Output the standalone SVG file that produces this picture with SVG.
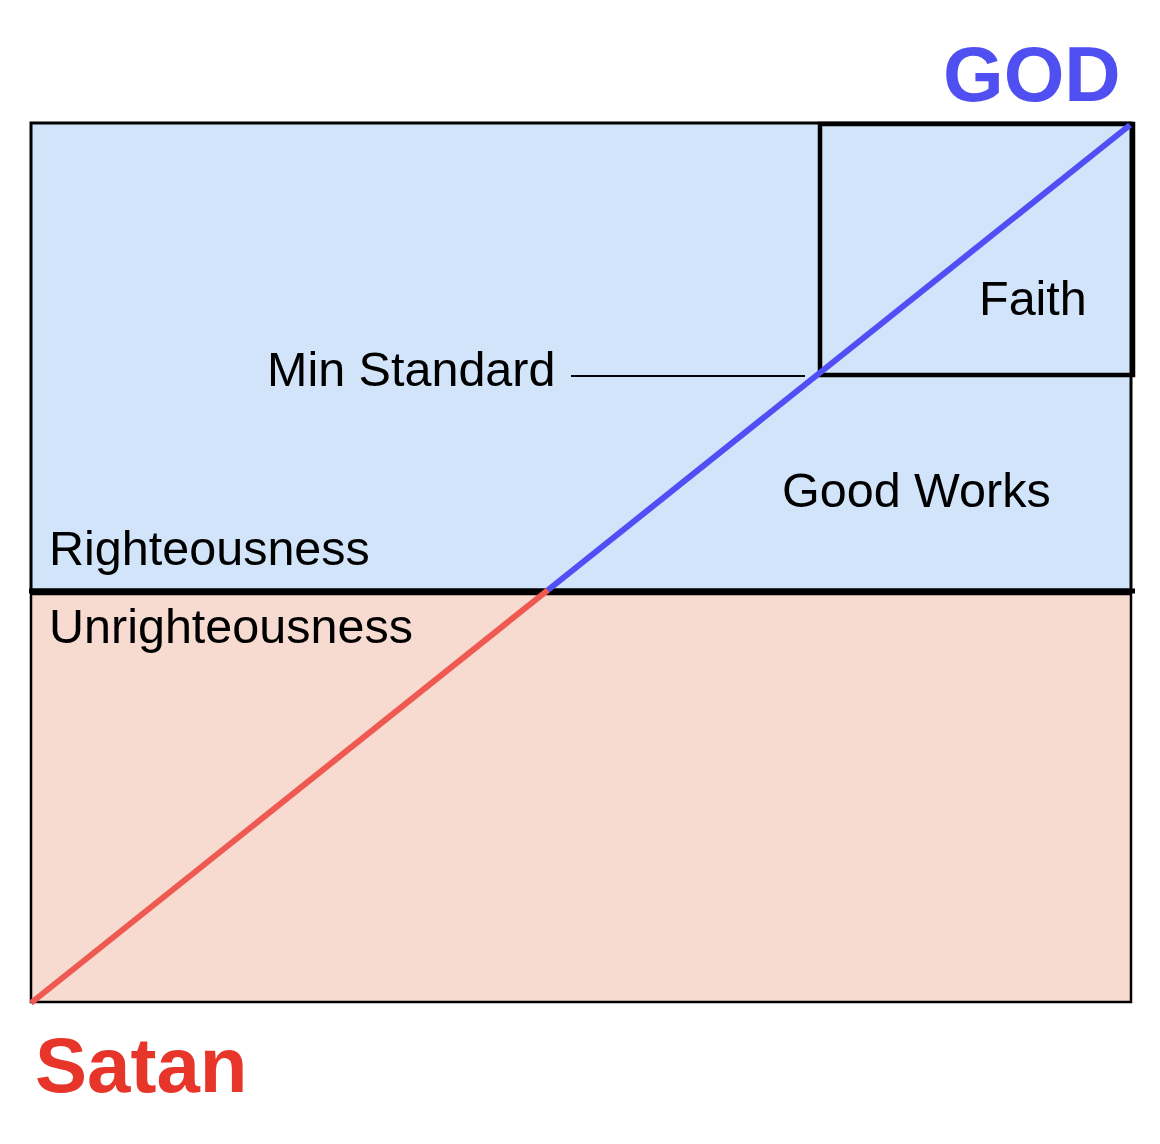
<svg xmlns="http://www.w3.org/2000/svg" width="1160" height="1144" viewBox="0 0 1160 1144">
<style>
text{font-family:"Liberation Sans",Arial,sans-serif;fill:#000}
.lbl{font-size:48.5px}
.big{font-size:78px;font-weight:bold}
</style>
<rect width="1160" height="1144" fill="#fff"/>
<g id="righteousness">
<rect x="31" y="123" width="1100" height="467" fill="#D1E4FA" stroke="#000" stroke-width="3"/>
<text class="lbl" x="49" y="565">Righteousness</text>
</g>
<g id="unrighteousness">
<rect x="31" y="594" width="1100" height="408" fill="#F7DAD0" stroke="#000" stroke-width="2.5"/>
<text class="lbl" x="49" y="643">Unrighteousness</text>
</g>
<g id="faith">
<rect x="820" y="124" width="313" height="251" fill="none" stroke="#000" stroke-width="4.5"/>
<text class="lbl" x="979" y="315">Faith</text>
</g>
<g id="good-works">
<text class="lbl" x="782" y="507">Good Works</text>
</g>
<g id="god"><text class="big" x="943" y="101" style="fill:#4F4FF2">GOD</text></g>
<g id="satan"><text class="big" x="35" y="1092" style="fill:#E8352A">Satan</text></g>
<g id="min-standard"><text class="lbl" x="267" y="386">Min Standard</text></g>
<g id="connectors">
<line x1="29" y1="591" x2="1135" y2="591" stroke="#000" stroke-width="5"/>
<line x1="571" y1="376" x2="805" y2="376" stroke="#000" stroke-width="2"/>
<line x1="31" y1="1003" x2="548" y2="590" stroke="#EE5A52" stroke-width="6"/>
<line x1="548" y1="590" x2="1130" y2="125" stroke="#4F4FF5" stroke-width="6"/>
</g>
</svg>
